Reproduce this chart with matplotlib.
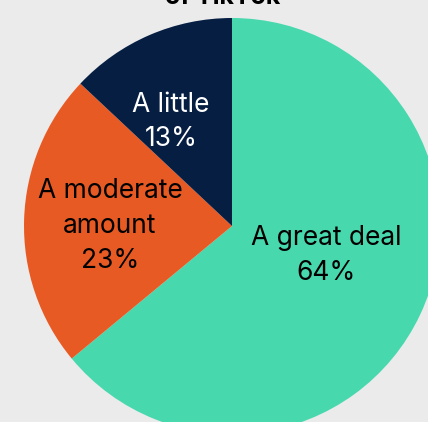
import matplotlib
matplotlib.use("Agg")
import matplotlib.pyplot as plt

categories = ["A great deal", "A moderate amount", "A little"]
label_texts = ["A great deal", "A moderate\namount", "A little"]
values = [64, 23, 13]
colors = ["#48D8AD", "#E85A24", "#051E42"]
text_colors = ["black", "black", "white"]
label_pos = [(0.452, -0.144), (-0.587, 0.0), (-0.293, 0.5)]

bg = "#EBEBEB"
plt.rcParams['font.family'] = ['Inter', 'DejaVu Sans']

fig = plt.figure(figsize=(4.28, 4.22), dpi=100, facecolor=bg)
ax = fig.add_axes([0, 0, 1, 1])
ax.set_facecolor(bg)
ax.pie(values, colors=colors, startangle=90, counterclock=False, radius=1.0,
       wedgeprops=dict(linewidth=0))
ax.set_xlim(-232/208, (428-232)/208)
ax.set_ylim((226-422)/208, 226/208)
ax.set_aspect('equal')
ax.axis('off')

for lab, v, (x, y), tc in zip(label_texts, values, label_pos, text_colors):
    ax.text(x, y, f"{lab}\n{v}%", ha='center', va='center', color=tc,
            fontsize=19, linespacing=1.45)

fig.text(0.52, 1 - 4/422, "of TikTok", ha='center', va='baseline', fontsize=18,
         fontweight='bold', color='black')

fig.savefig("out.png", dpi=100, facecolor=bg)
